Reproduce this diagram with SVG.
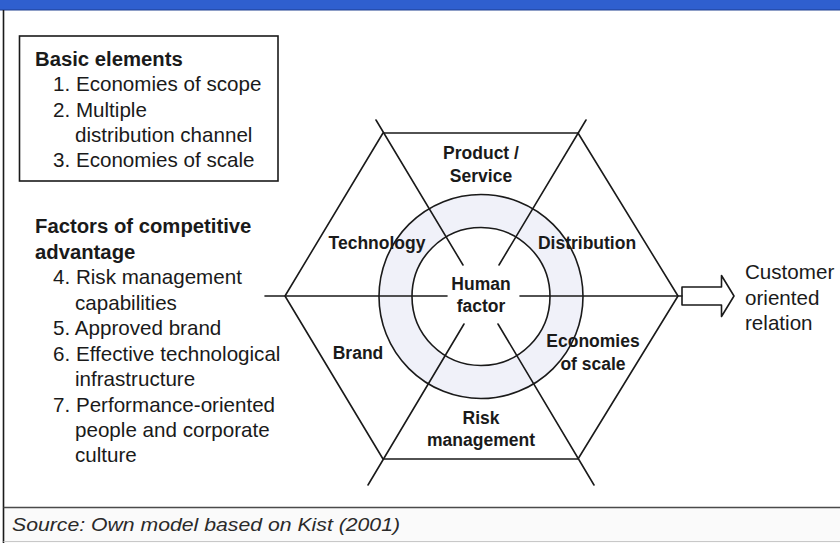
<svg xmlns="http://www.w3.org/2000/svg" width="840" height="543" viewBox="0 0 840 543">
  <style>
    .ln { stroke: #1a1a1a; stroke-width: 1.6; fill: none; stroke-linecap: round; stroke-linejoin: round; }
    .lbl { font-family: "Liberation Sans", Arial, Helvetica, sans-serif; font-size: 17.5px; font-weight: bold; fill: #1a1a1a; text-anchor: middle; }
    .head { font-family: "Liberation Sans", Arial, Helvetica, sans-serif; font-size: 20.3px; font-weight: bold; fill: #1a1a1a; }
    .item { font-family: "Liberation Sans", Arial, Helvetica, sans-serif; font-size: 20.6px; fill: #1a1a1a; }
  </style>

  <!-- page background and frame -->
  <rect x="0" y="0" width="840" height="543" fill="#ffffff"/>
  <rect x="0" y="0" width="840" height="10" fill="#2f5fcf"/>
  <line x1="0" y1="10" x2="840" y2="10" stroke="#1f3f90" stroke-width="1"/>
  <rect x="4" y="508" width="836" height="35" fill="#fafafa"/>
  <line x1="3.5" y1="10" x2="3.5" y2="543" stroke="#1a1a1a" stroke-width="1.6"/>
  <line x1="3.5" y1="507.5" x2="840" y2="507.5" stroke="#4a4a4a" stroke-width="1.5"/>
  <line x1="3.5" y1="541.5" x2="840" y2="541.5" stroke="#c8c8c8" stroke-width="1"/>

  <!-- left legend: basic elements -->
  <g id="basic-elements">
    <rect x="19.5" y="36" width="258.5" height="145" fill="none" stroke="#1a1a1a" stroke-width="1.6"/>
    <text class="head" x="35" y="66">Basic elements</text>
    <text class="item" x="53" y="91">1. Economies of scope</text>
    <text class="item" x="53" y="117">2. Multiple</text>
    <text class="item" x="75" y="142">distribution channel</text>
    <text class="item" x="53" y="167">3. Economies of scale</text>
  </g>

  <!-- left legend: competitive factors -->
  <g id="competitive-factors">
    <text class="head" x="35" y="233">Factors of competitive</text>
    <text class="head" x="35" y="258.5">advantage</text>
    <text class="item" x="53" y="284">4. Risk management</text>
    <text class="item" x="75" y="309.5">capabilities</text>
    <text class="item" x="53" y="335">5. Approved brand</text>
    <text class="item" x="53" y="360.5">6. Effective technological</text>
    <text class="item" x="75" y="386">infrastructure</text>
    <text class="item" x="53" y="411.5">7. Performance-oriented</text>
    <text class="item" x="75" y="437">people and corporate</text>
    <text class="item" x="75" y="462">culture</text>
  </g>

  <!-- central ring -->
  <g id="ring">
    <path d="M481,194.5 a102,102 0 1,0 0.01,0 Z M481,227.5 a69,69 0 1,1 -0.01,0 Z" fill="#f0f1f9" fill-rule="evenodd"/>
    <circle cx="481" cy="296.5" r="102" class="ln"/>
    <circle cx="481" cy="296.5" r="69" class="ln"/>
  </g>

  <!-- hexagon outline and spokes -->
  <g id="connectors">
    <polygon class="ln" points="383,133 578,133 678,296 578,459 383,459 285,296"/>
    <line class="ln" x1="376" y1="120" x2="463" y2="265"/>
    <line class="ln" x1="586" y1="120" x2="499" y2="265"/>
    <line class="ln" x1="464" y1="324" x2="368" y2="485"/>
    <line class="ln" x1="498" y1="324" x2="594" y2="485"/>
    <line class="ln" x1="265" y1="296" x2="447" y2="296"/>
    <line class="ln" x1="520" y1="296" x2="682" y2="296"/>
    <!-- hollow output arrow -->
    <polygon class="ln" points="682,287 721.5,287 721.5,275.5 734,296 721.5,316.5 721.5,305 682,305" fill="#ffffff"/>
  </g>

  <!-- segment labels -->
  <g id="product-service">
    <text class="lbl" x="481" y="159">Product /</text>
    <text class="lbl" x="481" y="181.5">Service</text>
  </g>
  <g id="technology">
    <text class="lbl" x="377" y="249">Technology</text>
  </g>
  <g id="distribution">
    <text class="lbl" x="587" y="249">Distribution</text>
  </g>
  <g id="human-factor">
    <text class="lbl" x="481" y="290">Human</text>
    <text class="lbl" x="481" y="312">factor</text>
  </g>
  <g id="brand">
    <text class="lbl" x="358" y="359">Brand</text>
  </g>
  <g id="economies-of-scale">
    <text class="lbl" x="593" y="347">Economies</text>
    <text class="lbl" x="593" y="370">of scale</text>
  </g>
  <g id="risk-management">
    <text class="lbl" x="481" y="424">Risk</text>
    <text class="lbl" x="481" y="446">management</text>
  </g>

  <!-- outcome -->
  <g id="customer-relation">
    <text class="item" x="745" y="279">Customer</text>
    <text class="item" x="745" y="305">oriented</text>
    <text class="item" x="745" y="330">relation</text>
  </g>

  <!-- source note -->
  <g id="source">
    <text x="12" y="531" font-family="'Liberation Sans', Arial, sans-serif" font-style="italic" font-size="19" fill="#2a2a2a" textLength="388" lengthAdjust="spacingAndGlyphs">Source: Own model based on Kist (2001)</text>
  </g>
</svg>
